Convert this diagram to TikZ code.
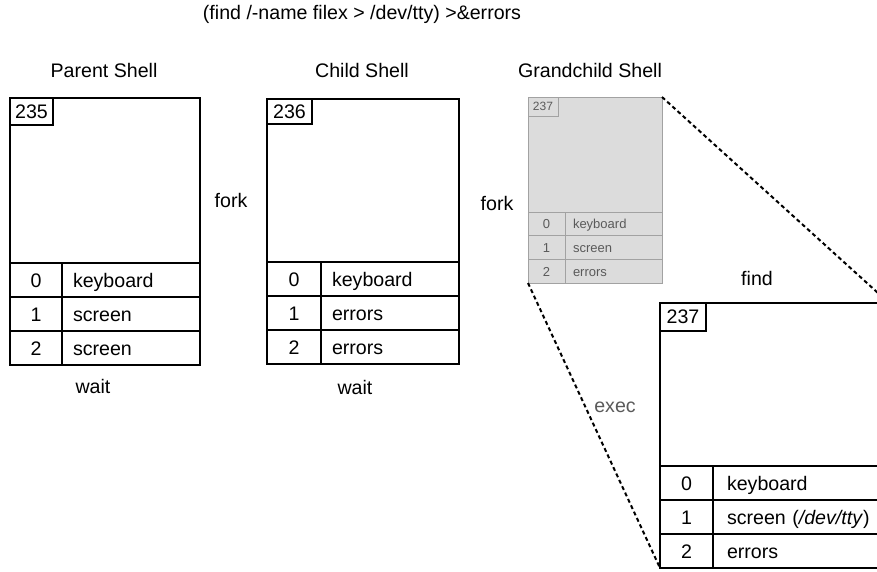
\documentclass[tikz,border=0pt]{standalone}
\usepackage{fontspec}
\setmainfont{Liberation Sans}
\usetikzlibrary{positioning,calc}
\definecolor{ghostfill}{HTML}{DCDCDC}
\definecolor{ghostline}{HTML}{A2A2A2}
\definecolor{ghosttext}{HTML}{5A5A5A}

\begin{document}
\begin{tikzpicture}[
  x=1pt, y=-1pt,
  font=\fontsize{19.6}{22}\selectfont,
  shell/.style={draw, line width=1.6pt, rectangle, anchor=north west, inner sep=0pt, outer sep=0pt, fill=white},
  pidbox/.style={draw, line width=1.6pt, anchor=north west, inner sep=0pt, outer sep=0pt, minimum width=44pt, minimum height=27pt},
  fdnum/.style={draw, line width=1.6pt, anchor=north west, inner sep=0pt, outer sep=0pt, minimum width=52pt, minimum height=34pt, text height=14pt, text depth=0pt},
  fdname/.style={draw, line width=1.6pt, anchor=north west, inner xsep=11pt, inner ysep=0pt, outer sep=0pt, minimum height=34pt, text width=116pt, align=left, text height=14pt, text depth=0pt},
  ghost/.style={draw=ghostline, fill=ghostfill, text=ghosttext, line width=1pt, font=\fontsize{13}{15}\selectfont},
  heading/.style={inner sep=0pt},
  note/.style={inner sep=0pt, text=ghosttext},
  link/.style={line width=2pt, dash pattern=on 4pt off 3pt}
]
\clip (0,0) rectangle (877,571);

% command line and headings
\node[heading] (cmd) at (362,14) {(find /-name filex > /dev/tty) >\&errors};
\node[heading] (parenthead) at (104,70) {Parent Shell};
\node[heading] (childhead) at (362,70) {Child Shell};
\node[heading] (grandhead) at (590,70) {Grandchild Shell};

% parent shell
\node[shell, minimum width=190pt, minimum height=267pt] (parent) at (10,98) {};
\node[pidbox, minimum width=43pt] (parentpid) at (parent.north west) {235};
\foreach \fd/\dev [count=\r from 0] in {0/keyboard,1/screen,2/screen}{
  \node[fdnum] (parentfd\fd) at (10,263+34*\r) {\fd};
  \node[fdname, text width=116pt] (parentdev\fd) at (62,263+34*\r) {\dev};
}
\node[heading] (parentwait) at (93,386) {wait};

\node[heading] (fork1) at (231,200) {fork};

% child shell
\node[shell, minimum width=192pt, minimum height=265pt] (child) at (267,99) {};
\node[pidbox, minimum width=45pt, minimum height=25pt] (childpid) at (child.north west) {236};
\foreach \fd/\dev [count=\r from 0] in {0/keyboard,1/errors,2/errors}{
  \node[fdnum, minimum width=54pt] (childfd\fd) at (267,262+34*\r) {\fd};
  \node[fdname, text width=116pt] (childdev\fd) at (321,262+34*\r) {\dev};
}
\node[heading] (childwait) at (355,387) {wait};

\node[heading] (fork2) at (497,203) {fork};

% grandchild shell (before exec)
\node[shell, ghost, minimum width=134pt, minimum height=186pt] (grand) at (528,97) {};
\node[pidbox, ghost, line width=1pt, minimum width=30pt, minimum height=19pt, font=\fontsize{12}{14}\selectfont] (grandpid) at (grand.north west) {237};
\foreach \fd/\dev [count=\r from 0] in {0/keyboard,1/screen,2/errors}{
  \node[fdnum, ghost, minimum width=37pt, minimum height=23.7pt, text height=9.5pt] (grandfd\fd) at (528,212+23.7*\r) {\fd};
  \node[fdname, ghost, inner xsep=8pt, text width=81pt, minimum height=23.7pt, text height=9.5pt] (granddev\fd) at (565,212+23.7*\r) {\dev};
}

\node[heading] (findlabel) at (757,278) {find};

% find after exec
\node[shell, minimum width=229pt, minimum height=265pt] (find) at (660,303) {};
\node[pidbox, minimum width=46pt, minimum height=28pt] (findpid) at (find.north west) {237};
\foreach \fd/\dev [count=\r from 0] in {0/keyboard,1/{screen (\textit{/dev/tty})},2/errors}{
  \node[fdnum, minimum width=53pt] (findfd\fd) at (660,466+34*\r) {\fd};
  \node[fdname, inner xsep=14pt, text width=148pt] (finddev\fd) at (713,466+34*\r) {\dev};
}

% exec links
\draw[link] (grand.north east) -- (find.north east);
\draw[link] (grand.south west) -- (find.south west);
\node[note] (exec) at (615,407) {exec};

\end{tikzpicture}
\end{document}
